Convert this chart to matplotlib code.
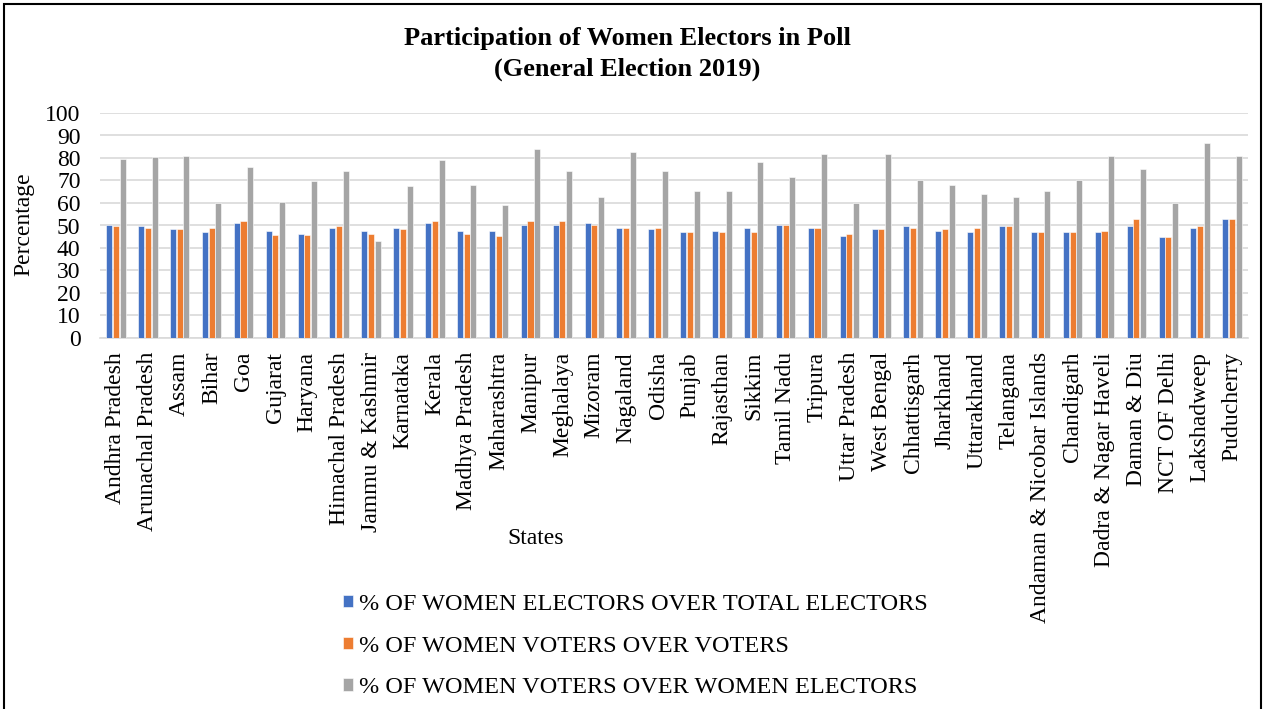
import matplotlib
matplotlib.use("Agg")
import matplotlib.pyplot as plt
import numpy as np
from matplotlib.patches import Rectangle

plt.rcParams["font.family"] = ["Liberation Serif", "DejaVu Serif"]

states = ["Andhra Pradesh", "Arunachal Pradesh", "Assam", "Bihar", "Goa", "Gujarat",
          "Haryana", "Himachal Pradesh", "Jammu & Kashmir", "Karnataka", "Kerala",
          "Madhya Pradesh", "Maharashtra", "Manipur", "Meghalaya", "Mizoram", "Nagaland",
          "Odisha", "Punjab", "Rajasthan", "Sikkim", "Tamil Nadu", "Tripura",
          "Uttar Pradesh", "West Bengal", "Chhattisgarh", "Jharkhand", "Uttarakhand",
          "Telangana", "Andaman & Nicobar Islands", "Chandigarh", "Dadra & Nagar Haveli",
          "Daman & Diu", "NCT OF Delhi", "Lakshadweep", "Puducherry"]

electors_share = [50.4, 49.7, 48.4, 46.9, 51.2, 47.6, 46.3, 49.1, 47.6, 49.1, 51.2,
                  47.6, 47.6, 50.4, 50.4, 51.2, 49.1, 48.4, 46.9, 47.6, 49.1, 50.4, 49.1,
                  45.4, 48.4, 49.9, 47.6, 46.9, 49.9, 46.9, 46.9, 46.9, 49.9, 44.8, 49.1, 52.7]
voters_share = [49.7, 49.0, 48.4, 49.1, 51.9, 45.6, 45.6, 49.9, 46.3, 48.4, 51.9,
                46.2, 45.4, 51.9, 51.9, 50.4, 49.1, 49.1, 46.9, 46.9, 46.9, 50.4, 49.1,
                46.2, 48.4, 49.1, 48.4, 49.1, 49.9, 46.9, 46.9, 47.6, 52.7, 44.8, 49.9, 52.7]
turnout_women = [79.6, 80.3, 81.1, 59.8, 76.0, 60.4, 69.8, 74.0, 43.3, 67.6, 79.0,
                 68.2, 59.0, 83.9, 74.0, 62.6, 82.5, 74.0, 65.4, 65.4, 78.3, 71.7, 81.8,
                 59.8, 81.8, 70.3, 68.2, 63.9, 62.6, 65.4, 70.3, 81.1, 75.3, 59.8, 86.7, 81.1]

series_labels = ["% OF WOMEN ELECTORS OVER TOTAL ELECTORS",
                 "% OF WOMEN VOTERS OVER VOTERS",
                 "% OF WOMEN VOTERS OVER WOMEN ELECTORS"]
colors = ["#4472c4", "#ed7d31", "#a5a5a5"]

fig = plt.figure(figsize=(12.65, 7.09), dpi=100)
ax = fig.add_axes([100 / 1265, 1 - 338 / 709, 1148 / 1265, 225 / 709])

x = np.arange(len(states))
w = 0.19
for i, (vals, lab, c) in enumerate(zip([electors_share, voters_share, turnout_women],
                                       series_labels, colors)):
    ax.bar(x + (i - 1) * 0.21, vals, w, color=c, label=lab, zorder=3,
           edgecolor="white", linewidth=0.4)

ax.set_xlim(-0.5, len(states) - 0.5)
ax.set_ylim(0, 100)
ax.set_yticks(range(0, 101, 10))
ax.yaxis.grid(True, color="#d9d9d9", linewidth=1.2, zorder=0)
ax.set_xticks(x)
ax.set_xticklabels(states, rotation=90, fontsize=17)
ax.tick_params(axis="y", labelsize=17, length=0, pad=14)
ax.tick_params(axis="x", length=0, pad=10)
for s in ["top", "right", "left"]:
    ax.spines[s].set_visible(False)
ax.spines["bottom"].set_color("#d9d9d9")
ax.spines["bottom"].set_linewidth(1.2)

fig.text(24 / 1265, 1 - 224 / 709, "Percentage", fontsize=17, rotation=90,
         ha="center", va="center")
fig.text(536 / 1265, 1 - 538 / 709, "States", fontsize=17, ha="center", va="center")
fig.text(627 / 1265, 1 - 27 / 709, "Participation of Women Electors in Poll\n(General Election 2019)",
         ha="center", va="top", fontsize=19, fontweight="bold", linespacing=1.43)

fig.legend(loc="upper left", bbox_to_anchor=(343 / 1265, 1 - 594 / 709), frameon=False,
           fontsize=17.5, handlelength=0.4, handleheight=0.4, handletextpad=0.25,
           labelspacing=0.85, borderpad=0, borderaxespad=0)

fig.patches.append(Rectangle((0.003, -0.02), 0.994, 1.015, transform=fig.transFigure,
                             fill=False, edgecolor="black", linewidth=1.5))

fig.savefig("out.png", dpi=100)
